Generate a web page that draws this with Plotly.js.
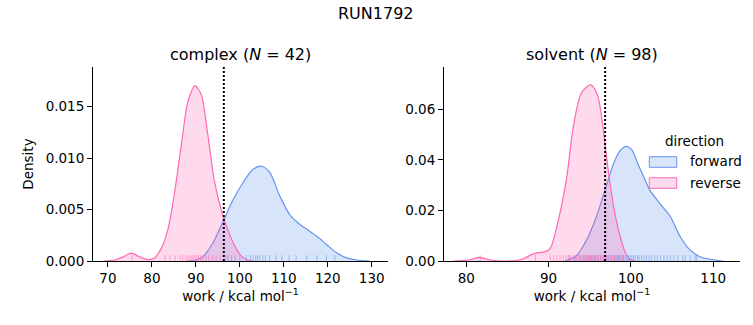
<!DOCTYPE html>
<html><head><meta charset="utf-8">
<script src="https://cdn.plot.ly/plotly-3.0.1.min.js"></script>
<style>body{margin:0;background:#fff}#c{width:753px;height:325px}</style>
</head><body><div id="c"></div>
<script>
// ---- data ----
const complexRevX = [69.0, 71.5, 73.5, 75.3, 77.2, 79.1, 80.6, 82.1, 83.6, 85.1, 86.7, 88.2, 89.8, 91.2, 92.7, 94.2, 95.8, 97.3, 98.8, 100.3, 101.8, 103.0];
const complexRevY = [0, 0.0001, 0.0004, 0.00077, 0.0004, 0.00013, 0.0003, 0.0012, 0.0030, 0.0065, 0.0113, 0.0155, 0.0170, 0.0162, 0.0123, 0.0078, 0.0049, 0.0030, 0.0015, 0.0005, 0.0001, 0];
const complexFwdX = [88.0, 90.0, 91.5, 93.8, 96.35, 98.4, 100.7, 103.0, 104.9, 106.8, 109.1, 111.5, 113.5, 115.5, 117.5, 119.7, 122.0, 124.3, 126.6, 129.5];
const complexFwdY = [0, 0.0001, 0.0004, 0.0017, 0.0040, 0.0059, 0.0076, 0.0089, 0.0092, 0.0086, 0.0063, 0.0044, 0.0036, 0.0030, 0.0024, 0.0016, 0.0008, 0.0003, 0.0001, 0];
const solventRevX = [78.5, 80.5, 81.6, 82.9, 84.5, 86.0, 87.0, 88.0, 88.8, 89.5, 90.2, 91.1, 92.2, 93.0, 94.0, 95.1, 95.9, 96.5, 96.9, 97.3, 97.9, 98.7, 99.3, 99.8, 100.5];
const solventRevY = [0, 0.0005, 0.0014, 0.0004, 0, 0.0002, 0.0010, 0.0026, 0.0033, 0.0036, 0.0050, 0.0150, 0.0330, 0.0530, 0.0665, 0.0696, 0.0660, 0.0557, 0.0450, 0.0346, 0.0215, 0.0096, 0.0035, 0.0008, 0];
const solventFwdX = [92.0, 93.4, 94.6, 95.8, 96.85, 97.9, 98.7, 99.5, 100.1, 100.9, 101.6, 102.3, 103.5, 104.8, 106.0, 107.2, 108.4, 109.6, 111.2];
const solventFwdY = [0, 0.0022, 0.0082, 0.0174, 0.0280, 0.0385, 0.0437, 0.0453, 0.0440, 0.0380, 0.0330, 0.0280, 0.0228, 0.0175, 0.0096, 0.0043, 0.0017, 0.0007, 0];

const complexRevRug = [75.5, 83.0, 84.1, 85.3, 86.4, 87.0, 87.8, 88.4, 88.9, 89.3, 89.8, 90.2, 90.6, 91.1, 91.6, 92.3, 92.9, 93.8, 94.6, 95.5, 96.8];
const complexFwdRug = [97.3, 98.1, 98.9, 100.0, 101.5, 102.4, 103.0, 103.6, 104.0, 104.5, 105.2, 105.8, 106.8, 108.2, 109.6, 111.2, 112.8, 115.2, 117.5, 119.7, 121.6];
const solventRevRug = [81.7, 88.4, 90.2, 90.6, 91.0, 91.4, 91.8, 92.1, 92.4, 92.7, 93.0, 93.2, 93.4, 93.6, 93.8, 94.0, 94.2, 94.3, 94.5, 94.6, 94.8, 94.9, 95.0, 95.1, 95.3, 95.4, 95.5, 95.7, 95.8, 96.0, 96.1, 96.3, 96.5, 96.6, 96.8, 97.0, 97.2, 97.5, 97.7, 98.0, 98.3, 98.6, 99.0];
const solventFwdRug = [92.5, 93.2, 93.8, 94.3, 94.8, 95.2, 95.6, 96.0, 96.3, 96.7, 97.0, 97.3, 97.6, 97.9, 98.1, 98.3, 98.5, 98.7, 98.9, 99.1, 99.3, 99.5, 99.7, 99.9, 100.1, 100.3, 100.5, 100.8, 101.0, 101.3, 101.6, 101.9, 102.2, 102.5, 102.9, 103.2, 103.6, 104.0, 104.4, 104.8, 105.2, 105.7, 106.3, 106.6, 107.2, 107.8, 108.0];

const complexLine = [96.35];
const solventLine = [96.87];

const complexTicksX = [70, 80, 90, 100, 110, 120, 130];
const complexTicksY = [0, 0.005, 0.010, 0.015];
const solventTicksX = [80, 90, 100, 110];
const solventTicksY = [0, 0.02, 0.04, 0.06];

const subTitles = ['complex (<i>N</i> = 42)', 'solvent (<i>N</i> = 98)'];
const legendTitle = 'direction';
const names = ['forward', 'reverse'];

// ---- styling ----
const BLUE = '#6495ED', PINK = '#FF69B4';
const BLUEF = 'rgba(100,149,237,0.25)', PINKF = 'rgba(255,105,180,0.25)';
const FONT = 'DejaVu Sans';
const FS = 13.5;

function kde(x, y, xa, ya, color, fill) {
  return {x: x, y: y, xaxis: xa, yaxis: ya, type: 'scatter', mode: 'lines',
    line: {color: color, width: 1.2, shape: 'spline', smoothing: 0.8},
    fill: 'tozeroy', fillcolor: fill, showlegend: false, hoverinfo: 'skip'};
}
function rug(vals, xa, ya, color) {
  return {x: vals, y: vals.map(() => 0.0125), xaxis: xa, yaxis: ya, type: 'scatter', mode: 'markers',
    marker: {symbol: 'line-ns-open', size: 5, color: color, line: {color: color, width: 1}}, showlegend: false, hoverinfo: 'skip'};
}
function vline(v, xa, ya) {
  return {x: [v[0], v[0]], y: [0, 1], xaxis: xa, yaxis: ya, type: 'scatter', mode: 'lines',
    line: {color: 'black', width: 2, dash: '2px,2px'}, showlegend: false, hoverinfo: 'skip'};
}

const traces = [
  kde(complexFwdX, complexFwdY, 'x', 'y', BLUE, BLUEF),
  kde(complexRevX, complexRevY, 'x', 'y', PINK, PINKF),
  kde(solventFwdX, solventFwdY, 'x2', 'y2', BLUE, BLUEF),
  kde(solventRevX, solventRevY, 'x2', 'y2', PINK, PINKF),
  rug(complexFwdRug, 'x', 'y3', 'rgba(100,149,237,0.55)'),
  rug(complexRevRug, 'x', 'y3', 'rgba(255,105,180,0.55)'),
  rug(solventFwdRug, 'x2', 'y4', 'rgba(100,149,237,0.55)'),
  rug(solventRevRug, 'x2', 'y4', 'rgba(255,105,180,0.55)'),
  vline(complexLine, 'x', 'y3'),
  vline(solventLine, 'x2', 'y4')
];

const axBase = {showline: true, linecolor: 'black', linewidth: 1, ticks: 'outside', ticklen: 5, tickwidth: 1,
  tickcolor: 'black', showgrid: false, zeroline: false, tickfont: {family: FONT, size: FS, color: 'black'}};
const xTitle = {text: 'work / kcal mol<sup>−1</sup>', font: {family: FONT, size: FS, color: 'black'}, standoff: 6};

// manual legend (matplotlib-style patches)
const legX0 = 0.8598, legX1 = 0.9022, legTxtX = 0.9196;
const legRows = [{y0: 0.483, y1: 0.5376, ty: 0.5155}, {y0: 0.3747, y1: 0.4289, ty: 0.4046}];
const legColors = [[BLUE, BLUEF], [PINK, PINKF]];
const shapes = legRows.map((r, i) => ({type: 'rect', xref: 'paper', yref: 'paper', x0: legX0, x1: legX1, y0: r.y0, y1: r.y1,
  line: {color: legColors[i][0], width: 1}, fillcolor: legColors[i][1]}));

const annotations = [
  {text: 'RUN1792', xref: 'paper', yref: 'paper', x: 0.438, y: 1.278, xanchor: 'center', yanchor: 'middle', showarrow: false,
    font: {family: FONT, size: 16, color: 'black'}},
  {text: subTitles[0], xref: 'paper', yref: 'paper', x: 0.228, y: 1.067, xanchor: 'center', yanchor: 'middle', showarrow: false,
    font: {family: FONT, size: 16, color: 'black'}},
  {text: subTitles[1], xref: 'paper', yref: 'paper', x: 0.7712, y: 1.067, xanchor: 'center', yanchor: 'middle', showarrow: false,
    font: {family: FONT, size: 16, color: 'black'}},
  {text: legendTitle, xref: 'paper', yref: 'paper', x: 0.9304, y: 0.6186, xanchor: 'center', yanchor: 'middle', showarrow: false,
    font: {family: FONT, size: FS, color: 'black'}}
].concat(names.map((n, i) => ({text: n, xref: 'paper', yref: 'paper', x: legTxtX, y: legRows[i].ty, xanchor: 'left', yanchor: 'middle',
  showarrow: false, font: {family: FONT, size: FS, color: 'black'}})));

const layout = {
  width: 753, height: 325, margin: {l: 93, r: 13, t: 67, b: 64},
  paper_bgcolor: 'white', plot_bgcolor: 'white', font: {family: FONT, color: 'black'},
  xaxis: Object.assign({}, axBase, {domain: [0, 0.456], range: [66.6, 133.7], tickvals: complexTicksX, anchor: 'y', title: xTitle}),
  yaxis: Object.assign({}, axBase, {domain: [0, 1], range: [0, 0.01884], tickvals: complexTicksY, tickformat: '.3f', anchor: 'x',
    title: {text: 'Density', font: {family: FONT, size: FS, color: 'black'}, standoff: 8}}),
  xaxis2: Object.assign({}, axBase, {domain: [0.5425, 1], range: [77.3, 113.25], tickvals: solventTicksX, anchor: 'y2', title: xTitle}),
  yaxis2: Object.assign({}, axBase, {domain: [0, 1], range: [0, 0.0767], tickvals: solventTicksY, tickformat: '.2f', anchor: 'x2'}),
  yaxis3: {overlaying: 'y', range: [0, 1], visible: false, anchor: 'x'},
  yaxis4: {overlaying: 'y2', range: [0, 1], visible: false, anchor: 'x2'},
  showlegend: false,
  shapes: shapes,
  annotations: annotations
};

Plotly.newPlot('c', traces, layout, {staticPlot: true, displayModeBar: false});
</script>
</body></html>
